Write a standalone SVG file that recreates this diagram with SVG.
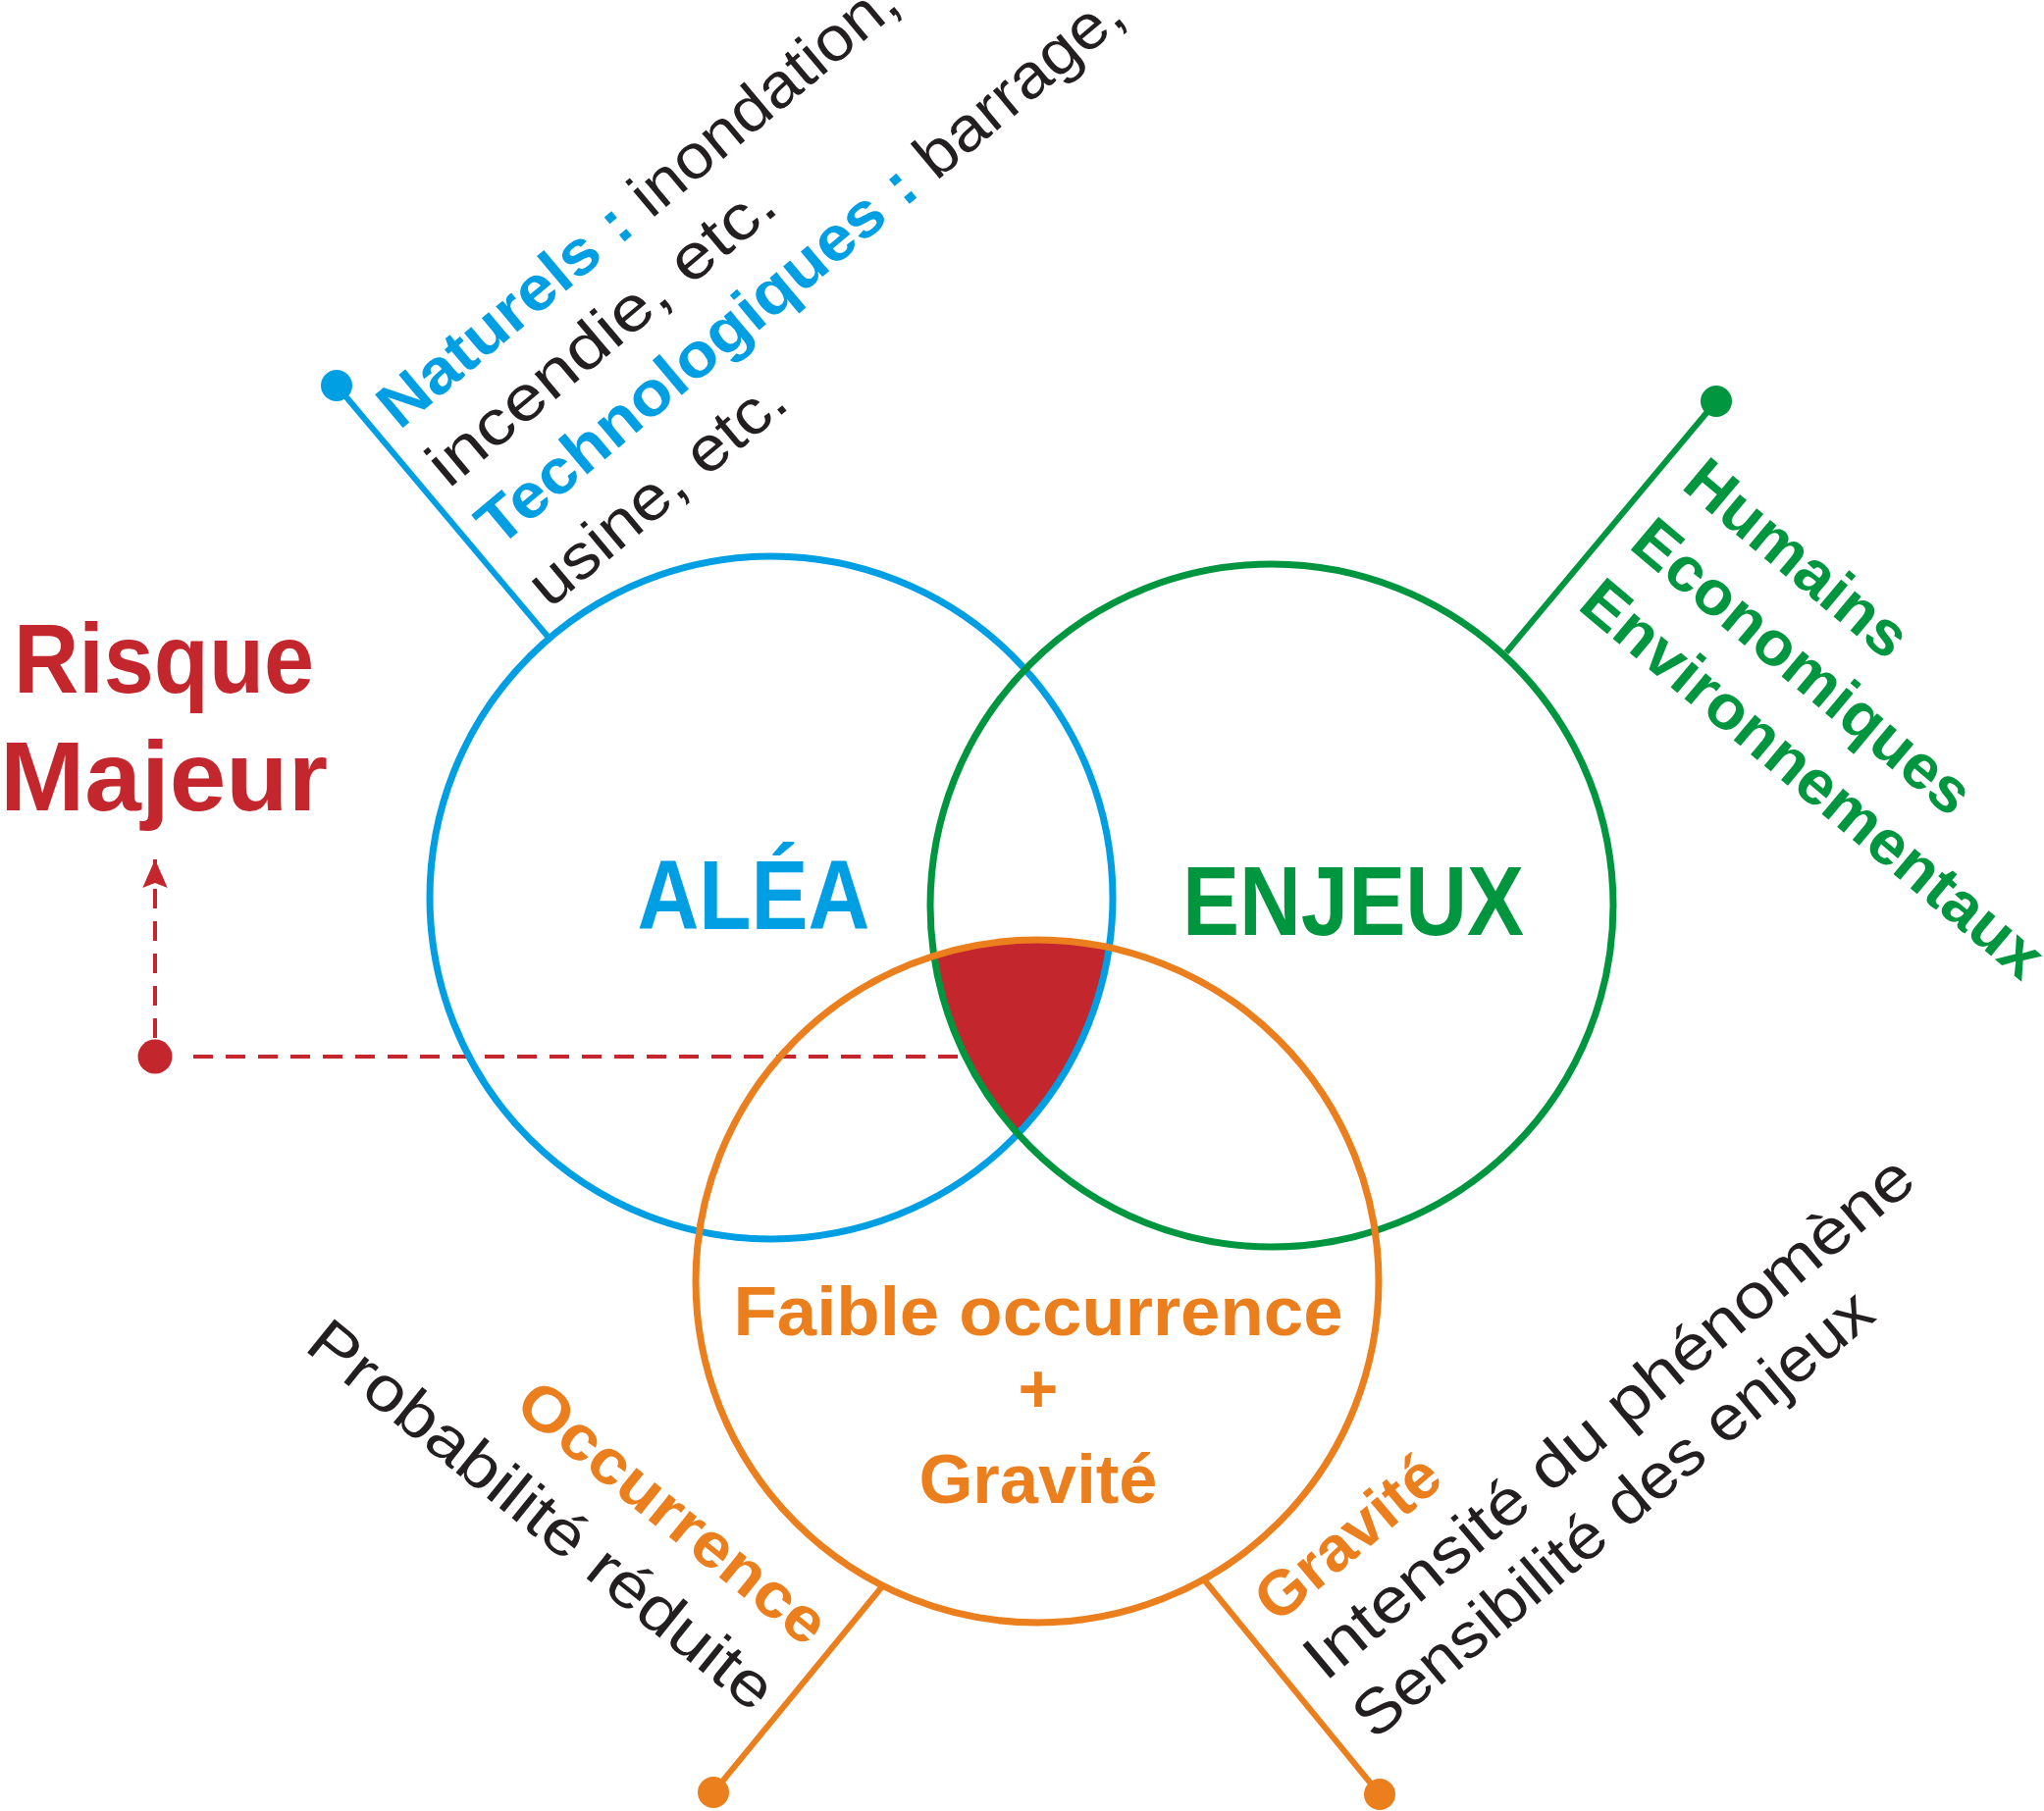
<svg xmlns="http://www.w3.org/2000/svg" width="2083" height="1846" viewBox="0 0 2083 1846">
<style>
text{font-family:"Liberation Sans",Arial,sans-serif}
.bl{fill:#009FE3}.gr{fill:#009640}.or{fill:#EC7F1D}.rd{fill:#C4262E}.bk{fill:#231F20}
.b{font-weight:bold}.r{font-weight:normal}
.side{font-size:64px}
.big{font-size:100px;font-weight:bold;text-anchor:middle}
.mid{font-size:70px;font-weight:bold;text-anchor:middle;fill:#EC7F1D}
.ring{fill:none;stroke-width:7}
.pin{stroke-width:6;fill:none}
.dash{stroke:#C4262E;stroke-width:4;stroke-dasharray:20 13;fill:none}
</style>
<defs>
<marker id="arr" viewBox="0 -13 29 26" refX="29" refY="0" markerWidth="29" markerHeight="26" markerUnits="userSpaceOnUse" orient="auto">
<path d="M0,-12.7 L29,0 L0,12.7 L5,0 Z" fill="#C4262E"/>
</marker>
</defs>

<g id="risque-majeur-zone">
<path d="M951.8 974.3 A348 348 0 0 1 1130.3 965.8 A348 348 0 0 1 1037.3 1155.8 A348 348 0 0 1 951.8 974.3 Z" fill="#C4262E"/>
</g>

<g id="connectors">
<path class="dash" d="M976 1077 H189"/>
<path class="dash" d="M158 1058 V876" marker-end="url(#arr)"/>
<circle cx="158" cy="1077" r="17.5" fill="#C4262E"/>
<path class="pin" stroke="#009FE3" d="M343 393 L560 651"/>
<circle cx="343" cy="393" r="16" fill="#009FE3"/>
<path class="pin" stroke="#009640" d="M1749 409 L1535 665"/>
<circle cx="1749" cy="409" r="16" fill="#009640"/>
<path class="pin" stroke="#EC7F1D" d="M900 1616 L727 1827"/>
<circle cx="727" cy="1827" r="16" fill="#EC7F1D"/>
<path class="pin" stroke="#EC7F1D" d="M1226 1609 L1406 1829"/>
<circle cx="1406" cy="1829" r="16" fill="#EC7F1D"/>
</g>

<g id="alea">
<circle class="ring" cx="786" cy="915" r="348" stroke="#009FE3"/>
<text class="big bl" x="768" y="947" textLength="237" lengthAdjust="spacingAndGlyphs">ALÉA</text>
</g>
<g id="enjeux">
<circle class="ring" cx="1296" cy="923" r="348" stroke="#009640"/>
<text class="big gr" x="1379" y="953" textLength="348" lengthAdjust="spacingAndGlyphs">ENJEUX</text>
</g>
<g id="occurrence-gravite">
<circle class="ring" cx="1057" cy="1306" r="348" stroke="#EC7F1D"/>
<text class="mid" x="1058" y="1361" textLength="621" lengthAdjust="spacingAndGlyphs">Faible occurrence</text>
<text class="mid" x="1058" y="1440">+</text>
<text class="mid" x="1058" y="1532" textLength="243" lengthAdjust="spacingAndGlyphs">Gravité</text>
</g>

<g id="risque-label">
<text class="big rd" x="167" y="706" textLength="306" lengthAdjust="spacingAndGlyphs">Risque</text>
<text class="big rd" x="167" y="826" textLength="334" lengthAdjust="spacingAndGlyphs">Majeur</text>
</g>

<g id="alea-types" class="side" transform="translate(407 439) rotate(-40)">
<text x="0" y="0" textLength="670" lengthAdjust="spacingAndGlyphs"><tspan class="b bl">Naturels :</tspan><tspan class="r bk"> inondation,</tspan></text>
<text class="bk" x="0" y="78" textLength="442" lengthAdjust="spacingAndGlyphs">incendie, etc.</text>
<text x="0" y="157" textLength="838" lengthAdjust="spacingAndGlyphs"><tspan class="b bl">Technologiques :</tspan><tspan class="r bk"> barrage,</tspan></text>
<text class="bk" x="0" y="238" textLength="322" lengthAdjust="spacingAndGlyphs">usine, etc.</text>
</g>

<g id="enjeux-types" class="side b gr" transform="translate(1712 497) rotate(40)">
<text x="0" y="0" textLength="276" lengthAdjust="spacingAndGlyphs">Humains</text>
<text x="-2" y="81" textLength="430" lengthAdjust="spacingAndGlyphs">Economiques</text>
<text x="-2" y="162" textLength="593" lengthAdjust="spacingAndGlyphs">Environnementaux</text>
</g>

<g id="occurrence-label" class="side" transform="translate(822 1680) rotate(39)" text-anchor="end">
<text class="b or" x="0" y="0" textLength="386" lengthAdjust="spacingAndGlyphs">Occurrence</text>
<text class="bk" x="0" y="86" textLength="591" lengthAdjust="spacingAndGlyphs">Probabilité réduite</text>
</g>

<g id="gravite-label" class="side" transform="translate(1301 1656) rotate(-40)">
<text class="b or" x="0" y="0" textLength="225" lengthAdjust="spacingAndGlyphs">Gravité</text>
<text class="bk" x="0" y="77" textLength="790" lengthAdjust="spacingAndGlyphs">Intensité du phénomène</text>
<text class="bk" x="0" y="155" textLength="670" lengthAdjust="spacingAndGlyphs">Sensibilité des enjeux</text>
</g>
</svg>
